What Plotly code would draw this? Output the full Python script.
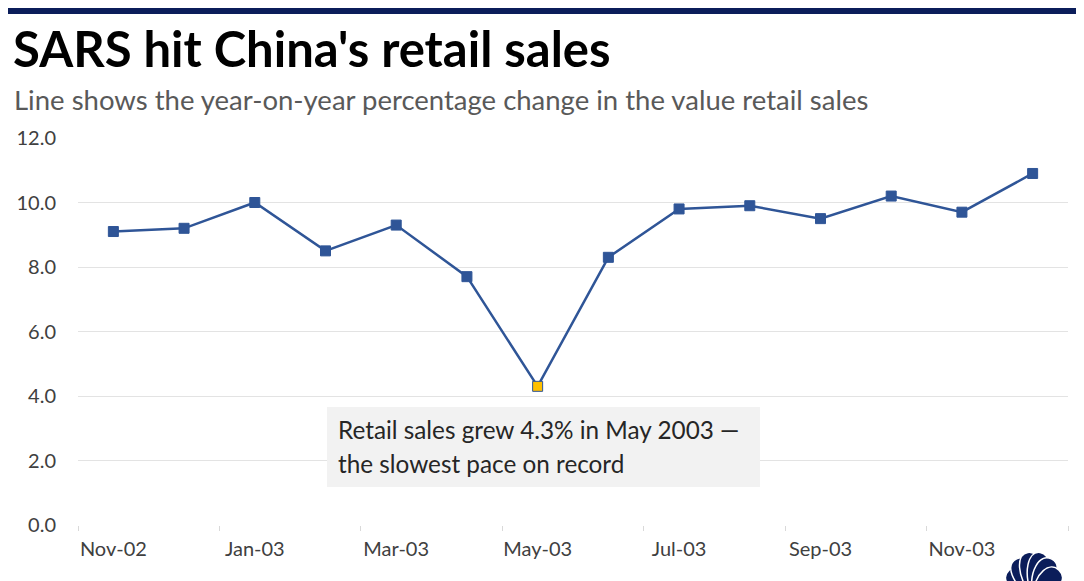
import math
import plotly.graph_objects as go

# monthly retail sales, year-on-year % change
months = ['Nov-02', 'Dec-02', 'Jan-03', 'Feb-03', 'Mar-03', 'Apr-03', 'May-03',
          'Jun-03', 'Jul-03', 'Aug-03', 'Sep-03', 'Oct-03', 'Nov-03', 'Dec-03']
growth = [9.1, 9.2, 10.0, 8.5, 9.3, 7.7, 4.3, 8.3, 9.8, 9.9, 9.5, 10.2, 9.7, 10.9]
y_ticks = [0, 2, 4, 6, 8, 10, 12]
highlight = 'May-03'

# page puts the plot 8px in from the top-left corner, so size/layout
# are worked out in window pixels and shifted by that offset
OFF = 8
W, H = 1084 - OFF, 581 - OFF
PL, PR, PT, PB = 78, 1068, 138, 525   # plot area in window pixels
NAVY = '#0b1d5a'
BLUE = '#2f5597'
FONT = 'Lato'


def px(x):
    return (x - PL) / (PR - PL)


def py(y):
    return (PB - y) / (PB - PT)


idx = list(range(len(months)))
marker_fill = ['#ffc000' if m == highlight else BLUE for m in months]

fig = go.Figure()
fig.add_trace(go.Scatter(
    x=idx, y=growth, mode='lines+markers',
    line=dict(color=BLUE, width=2.5),
    marker=dict(symbol='square', size=10, color=marker_fill,
                line=dict(color=BLUE, width=1)),
    hovertemplate='%{text}: %{y:.1f}%<extra></extra>', text=months,
    showlegend=False))

fig.update_layout(
    width=W, height=H,
    margin=dict(l=PL - OFF, r=W - (PR - OFF), t=PT - OFF, b=H - (PB - OFF)),
    plot_bgcolor='white', paper_bgcolor='white',
    font=dict(family=FONT, color='#404040'),
    xaxis=dict(
        range=[-0.5, len(months) - 0.5], automargin=False,
        tickvals=idx[::2], ticktext=months[::2],
        ticks='', showgrid=False, zeroline=False,
        showline=False, tickfont=dict(size=20, color='#404040'),
        ticklabelstandoff=10,
        minor=dict(tickmode='array',
                   tickvals=[i - 0.5 for i in range(0, len(months) + 1, 2)],
                   ticks='outside', ticklen=5, tickcolor='#d9d9d9',
                   tickwidth=1, showgrid=False)),
    yaxis=dict(
        range=[0, 12], tickvals=y_ticks, automargin=False,
        ticktext=[f'{v:.1f}' for v in y_ticks],
        showgrid=True, gridcolor='#e3e3e3', gridwidth=1,
        zeroline=False, showline=False, ticks='',
        tickfont=dict(size=20, color='#404040'),
        ticklabelstandoff=21),
)

# top rule
fig.add_shape(type='rect', xref='paper', yref='paper',
              x0=px(5), x1=px(1080), y0=py(14), y1=py(5),
              fillcolor=NAVY, line=dict(width=0), layer='above')

# title / subtitle
fig.add_annotation(text="<b>SARS hit China's retail sales</b>",
                   xref='paper', yref='paper', x=px(11), y=py(48),
                   xanchor='left', yanchor='middle', showarrow=False,
                   font=dict(size=49, color='#000000', family=FONT))
fig.add_annotation(text='Line shows the year-on-year percentage change in the value retail sales',
                   xref='paper', yref='paper', x=px(12), y=py(100),
                   xanchor='left', yanchor='middle', showarrow=False,
                   font=dict(size=27.5, color='#595959', family=FONT))

# callout box
fig.add_shape(type='rect', xref='paper', yref='paper',
              x0=px(327), x1=px(760), y0=py(487), y1=py(407),
              fillcolor='#f2f2f2', line=dict(width=0), layer='above')
callout = ['Retail sales grew 4.3% in May 2003 \u2014',
           'the slowest pace on record']
for line, yc in zip(callout, [429, 463]):
    fig.add_annotation(text=line, xref='paper', yref='paper',
                       x=px(336), y=py(yc), xanchor='left', yanchor='middle',
                       showarrow=False,
                       font=dict(size=24.3, color='#262626', family=FONT))

# peacock logo (bottom right corner, cut by the page edge)
cx, cy = 1034, 596
feathers = [(-44, 36, 16), (-25, 41, 16), (-8, 44, 15),
            (8, 44, 15), (25, 41, 16), (44, 36, 16)]
for ang, ln, wd in feathers:
    a = math.radians(ang)
    ux, uy = math.sin(a), -math.cos(a)
    nx, ny = -uy, ux
    tip = (cx + ux * ln, cy + uy * ln)
    pts = []
    for s in (1, -1):
        b0 = (cx + s * nx * 1.5, cy + s * ny * 1.5)
        c1 = (cx + ux * ln * 0.5 + s * nx * wd, cy + uy * ln * 0.5 + s * ny * wd)
        c2 = (tip[0] + s * nx * wd * 0.8, tip[1] + s * ny * wd * 0.8)
        pts.append((b0, c1, c2))
    (b0, c1, c2), (d0, e1, e2) = pts
    path = (f'M {px(b0[0])},{py(b0[1])} '
            f'C {px(c1[0])},{py(c1[1])} {px(c2[0])},{py(c2[1])} {px(tip[0])},{py(tip[1])} '
            f'C {px(e2[0])},{py(e2[1])} {px(e1[0])},{py(e1[1])} {px(d0[0])},{py(d0[1])} Z')
    fig.add_shape(type='path', xref='paper', yref='paper', path=path,
                  fillcolor=NAVY, line=dict(color='white', width=1.5),
                  layer='above')

fig.write_html('out.html')
